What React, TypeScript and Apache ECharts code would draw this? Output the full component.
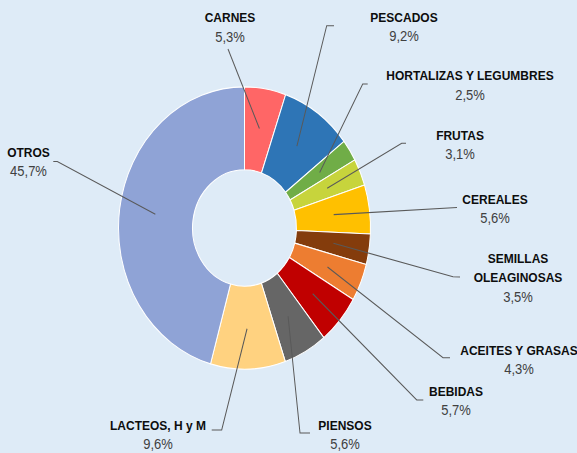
import React, { useEffect, useRef } from "react";
import * as echarts from "echarts";

// ---- data ----
const categories = [
  "CARNES",
  "PESCADOS",
  "HORTALIZAS Y LEGUMBRES",
  "FRUTAS",
  "CEREALES",
  "SEMILLAS\nOLEAGINOSAS",
  "ACEITES Y GRASAS",
  "BEBIDAS",
  "PIENSOS",
  "LACTEOS, H y M",
  "OTROS",
];
const values = [5.3, 9.2, 2.5, 3.1, 5.6, 3.5, 4.3, 5.7, 5.6, 9.6, 45.7];
const valueLabels = ["5,3%", "9,2%", "2,5%", "3,1%", "5,6%", "3,5%", "4,3%", "5,7%", "5,6%", "9,6%", "45,7%"];

// ---- styles ----
const colors = [
  "#FF6666",
  "#2E75B6",
  "#70AD47",
  "#C7D43C",
  "#FFC000",
  "#843C0C",
  "#ED7D31",
  "#C00000",
  "#666666",
  "#FFD280",
  "#8FA3D6",
];
const BG = "#DEEBF7";
const FONT = "'Liberation Sans', Arial, sans-serif";
const FS = 12;
const FS_V = 13;

// ---- layout (picture pixels, before vertical stretch) ----
const W = 577;
const H = 453;
const S = 1.12; // vertical stretch of the reference picture
const CX = 244.5;
const CY = 228 / S;
const R_IN = 52;
const R_OUT = 126;
const R_MID = 90;
const LINE_H = 19.6;
// label block: center x, first line center y
const labelPos: number[][] = [
  [230, 17.5],
  [404, 17],
  [470, 75.5],
  [460, 135],
  [495, 199],
  [518, 258],
  [519, 350],
  [456, 391],
  [345, 425],
  [158, 425],
  [28.5, 152],
];
// leader line points after the in-slice anchor
const leaderPts: number[][][] = [
  [[228, 49]],
  [[326.7, 25.7], [334, 25.7]],
  [[362.7, 84], [367.7, 84]],
  [[401.7, 143.3], [406, 143.3]],
  [[457, 207.5]],
  [[453, 276.7], [460, 277]],
  [[443, 357.7], [450, 357.7]],
  [[416.7, 400], [423.3, 400]],
  [[300, 433], [310, 433]],
  [[221.7, 430], [211.7, 430]],
  [[57.3, 161.5], [53.3, 161.5]],
];

function anchor(i: number): number[] {
  const total = values.reduce((a, b) => a + b, 0);
  let cum = 0;
  for (let k = 0; k < i; k++) cum += values[k];
  const th = ((cum + values[i] / 2) / total) * Math.PI * 2;
  return [CX + R_MID * Math.sin(th), CY - R_MID * Math.cos(th)];
}

export default function App() {
  const ref = useRef<HTMLDivElement>(null);
  useEffect(() => {
    if (!ref.current) return;
    const chart = echarts.init(ref.current, undefined, {
      renderer: "svg",
      width: W,
      height: H / S,
    });
    const lh = LINE_H / S;
    chart.setOption({
      animation: false,
      backgroundColor: BG,
      graphic: categories.map((_, i) => ({
        type: "polyline",
        silent: true,
        z: 100,
        shape: {
          points: [anchor(i), ...leaderPts[i].map((p) => [p[0], p[1] / S])],
        },
        style: { stroke: "#595959", lineWidth: 1, fill: null },
      })),
      series: [
        {
          type: "pie",
          center: [CX, CY],
          radius: [R_IN, R_OUT],
          startAngle: 90,
          clockwise: true,
          avoidLabelOverlap: false,
          itemStyle: { borderColor: "#ffffff", borderWidth: 1 },
          emphasis: { disabled: true },
          data: categories.map((name, i) => ({
            name,
            value: values[i],
            itemStyle: { color: colors[i] },
          })),
          label: {
            show: true,
            position: "outside",
            align: "center",
            fontFamily: FONT,
            formatter: (p: any) =>
              String(p.name)
                .split("\n")
                .map((s: string) => `{n|${s}}`)
                .join("\n") + `\n{v|${valueLabels[p.dataIndex]}}`,
            rich: {
              n: {
                fontFamily: FONT,
                fontWeight: "bold",
                fontSize: FS,
                color: "#0d0d0d",
                lineHeight: lh,
                align: "center",
              },
              v: {
                fontFamily: FONT,
                fontSize: FS_V,
                color: "#404040",
                lineHeight: lh,
                align: "center",
              },
            },
          },
          labelLine: { show: false },
          labelLayout: (params: any) => {
            const i = params.dataIndex;
            return {
              x: labelPos[i][0],
              y: (labelPos[i][1] - LINE_H / 2) / S,
              align: "center",
              verticalAlign: "top",
            };
          },
        },
      ],
    });
    return () => chart.dispose();
  }, []);

  return (
    <div
      style={{
        position: "fixed",
        left: 0,
        top: 0,
        width: W,
        height: H,
        overflow: "hidden",
        background: BG,
      }}
    >
      <div
        ref={ref}
        style={{
          width: W,
          height: H / S,
          transform: `scaleY(${S})`,
          transformOrigin: "0 0",
        }}
      />
    </div>
  );
}
